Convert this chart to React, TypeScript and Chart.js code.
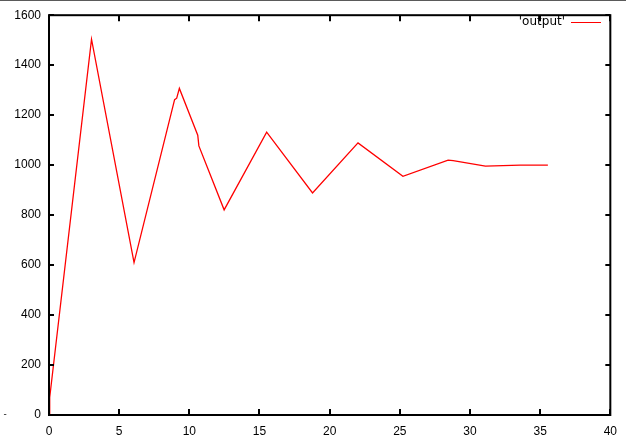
import React, { useEffect, useRef } from "react";
import { Chart, registerables } from "chart.js";

Chart.register(...registerables);

const seriesLabel = "'output'";
const xValues = [0, 0.05, 3.03, 6.06, 8.95, 9.1, 9.29, 10.6, 10.68, 12.48, 15.51, 18.78, 22.02, 25.22, 28.44, 28.8, 31.1, 33.58, 35.55];
const yValues = [0, 70, 1504, 610, 1262, 1268, 1307, 1120, 1077, 821, 1132, 889, 1089, 955, 1020, 1018, 996, 1000, 1000];
const xTicks = [0, 5, 10, 15, 20, 25, 30, 35, 40];
const yTicks = [0, 200, 400, 600, 800, 1000, 1200, 1400, 1600];

const framePlugin = {
  id: "frame",
  afterDraw(chart: any) {
    const { ctx, chartArea } = chart;
    const { left, right, top, bottom } = chartArea;
    const xs = chart.scales.x;
    const ys = chart.scales.y;
    ctx.save();
    ctx.strokeStyle = "#5a5a5a";
    ctx.lineWidth = 1;
    ctx.beginPath();
    ctx.moveTo(0, 0.5);
    ctx.lineTo(chart.width, 0.5);
    ctx.stroke();
    ctx.strokeStyle = "#000";
    ctx.lineWidth = 2;
    ctx.strokeRect(left, top, right - left, bottom - top);
    ctx.beginPath();
    xs.ticks.forEach((t: any) => {
      const px = Math.round(xs.getPixelForValue(t.value));
      ctx.moveTo(px, bottom);
      ctx.lineTo(px, bottom - 6);
      ctx.moveTo(px, top);
      ctx.lineTo(px, top + 6);
    });
    ys.ticks.forEach((t: any) => {
      const py = Math.round(ys.getPixelForValue(t.value));
      ctx.moveTo(left, py);
      ctx.lineTo(left + 5, py);
      ctx.moveTo(right, py);
      ctx.lineTo(right - 5, py);
    });
    ctx.stroke();
    ctx.font = "12px 'DejaVu Sans'";
    ctx.fillStyle = "#000";
    ctx.textAlign = "right";
    ctx.textBaseline = "middle";
    ctx.fillText(chart.data.datasets[0].label, 565, 22);
    ctx.strokeStyle = "red";
    ctx.lineWidth = 1;
    ctx.beginPath();
    ctx.moveTo(571, 22.5);
    ctx.lineTo(601, 22.5);
    ctx.stroke();
    ctx.font = "9px 'DejaVu Sans'";
    ctx.textAlign = "center";
    ctx.fillText("-", 5, 415);
    ctx.restore();
  },
};

export default function App() {
  const ref = useRef<HTMLCanvasElement>(null);
  useEffect(() => {
    if (!ref.current) return;
    const chart = new Chart(ref.current, {
      type: "line",
      data: {
        datasets: [
          {
            label: seriesLabel,
            data: xValues.map((x, i) => ({ x, y: yValues[i] })),
            borderColor: "red",
            borderWidth: 1.3,
            pointRadius: 0,
            tension: 0,
            fill: false,
          },
        ],
      },
      options: {
        responsive: false,
        animation: false,
        layout: { padding: { left: 0, top: 9, right: 14, bottom: 0 } },
        plugins: { legend: { display: false }, tooltip: { enabled: false } },
        scales: {
          x: {
            type: "linear",
            min: 0,
            max: 40,
            afterBuildTicks: (s: any) => {
              s.ticks = xTicks.map((v) => ({ value: v }));
            },
            afterFit: (s: any) => {
              s.height = 29;
            },
            grid: { display: false, drawTicks: false },
            border: { display: false },
            ticks: {
              color: "#000",
              font: { family: "'Liberation Sans'", size: 12 },
              padding: 9,
              maxRotation: 0,
              callback: (v: any) => String(v),
            },
          },
          y: {
            type: "linear",
            min: 0,
            max: 1600,
            afterBuildTicks: (s: any) => {
              s.ticks = yTicks.map((v) => ({ value: v }));
            },
            afterFit: (s: any) => {
              s.width = 49;
            },
            grid: { display: false, drawTicks: false },
            border: { display: false },
            ticks: {
              color: "#000",
              font: { family: "'Liberation Sans'", size: 12 },
              padding: 8,
              callback: (v: any) => String(v),
            },
          },
        },
      },
      plugins: [framePlugin],
    });
    return () => chart.destroy();
  }, []);
  return (
    <div style={{ position: "fixed", left: 0, top: 0, width: 626, height: 444, background: "#fff" }}>
      <canvas ref={ref} width={626} height={444} style={{ width: 626, height: 444 }} />
    </div>
  );
}
